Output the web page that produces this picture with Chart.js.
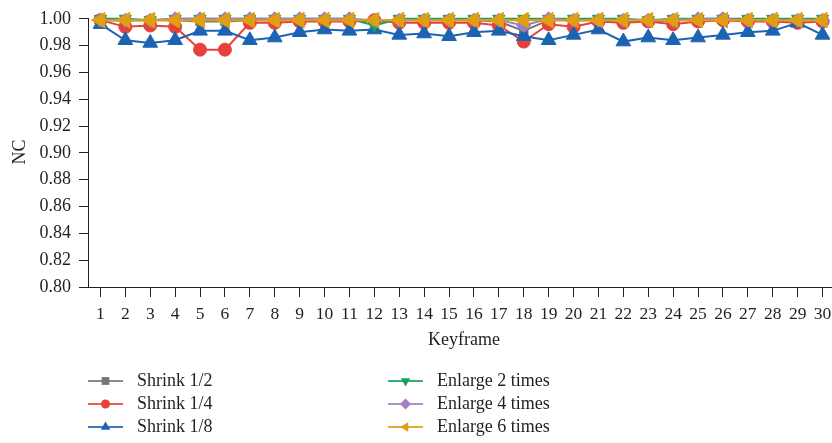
<!DOCTYPE html>
<html>
<head>
<meta charset="utf-8">
<script src="https://cdn.jsdelivr.net/npm/chart.js@4/dist/chart.umd.min.js"></script>
<style>
  html, body { margin: 0; padding: 0; background: #fff; overflow: hidden; }
  #wrap { width: 845px; height: 443px; }
</style>
</head>
<body>
<div id="wrap"><canvas id="c" width="845" height="443"></canvas></div>
<script>
const categories = ['1','2','3','4','5','6','7','8','9','10','11','12','13','14','15','16','17','18','19','20','21','22','23','24','25','26','27','28','29','30'];
const yTicks = [0.80,0.82,0.84,0.86,0.88,0.90,0.92,0.94,0.96,0.98,1.00];

const shrink12 = [0.999,0.999,0.999,0.999,0.998,0.998,0.999,0.999,0.999,0.999,0.999,0.998,0.999,0.999,0.999,0.999,0.998,0.991,0.999,0.999,0.999,0.999,0.998,0.999,0.999,0.999,0.999,0.999,0.999,0.999];
const shrink14 = [0.999,0.994,0.995,0.994,0.977,0.977,0.997,0.997,0.998,0.998,0.998,0.999,0.997,0.997,0.997,0.997,0.995,0.983,0.996,0.994,0.998,0.997,0.998,0.996,0.998,0.999,0.998,0.998,0.997,0.998];
const shrink18 = [0.996,0.984,0.982,0.984,0.991,0.991,0.984,0.986,0.990,0.992,0.991,0.992,0.988,0.989,0.987,0.990,0.991,0.987,0.984,0.988,0.992,0.983,0.986,0.984,0.986,0.988,0.990,0.991,0.997,0.988];
const enlarge2 = [1.000,1.000,0.999,1.000,1.000,1.000,1.000,1.000,1.000,1.000,1.000,0.995,1.000,1.000,1.000,1.000,1.000,1.000,1.000,1.000,1.000,1.000,0.999,1.000,1.000,1.000,1.000,1.000,1.000,1.000];
const enlarge4 = [0.999,0.999,0.999,1.000,1.000,1.000,1.000,1.000,1.000,1.000,1.000,0.999,0.999,0.999,0.999,0.999,0.999,0.995,1.000,0.999,0.999,0.999,0.999,0.999,1.000,1.000,0.999,0.999,0.999,0.999];
const enlarge6 = [0.999,0.999,0.999,0.999,0.999,0.999,0.999,0.999,0.999,0.999,0.999,0.999,0.999,0.999,0.999,0.999,0.999,0.999,0.999,0.999,0.999,0.999,0.999,0.999,0.999,0.999,0.999,0.999,0.999,0.999];

const seriesNames = ['Shrink 1/2','Shrink 1/4','Shrink 1/8','Enlarge 2 times','Enlarge 4 times','Enlarge 6 times'];

const FONT = '"Liberation Serif", "DejaVu Serif", serif';
const INK = '#231f20';

function ds(label, data, color, style, radius, rotation, order) {
  return {
    label, data,
    borderColor: color, backgroundColor: color,
    pointBackgroundColor: color, pointBorderColor: color,
    pointStyle: style, pointRadius: radius, pointHoverRadius: radius,
    pointRotation: rotation, borderWidth: 2, pointBorderWidth: 1,
    tension: 0, fill: false, clip: false, order
  };
}

const datasets = [
  ds(seriesNames[0], shrink12, '#767676', 'rect', 6, 0, 5),
  ds(seriesNames[1], shrink14, '#e8413a', 'circle', 6.5, 0, 4),
  ds(seriesNames[2], shrink18, '#1c63b2', 'triangle', 8.5, 0, 3),
  ds(seriesNames[3], enlarge2, '#16a05d', 'triangle', 7, 180, 2),
  ds(seriesNames[4], enlarge4, '#a27dc0', 'rectRot', 7, 0, 1),
  ds(seriesNames[5], enlarge6, '#e09e12', 'triangle', 9, -90, 0)
];

function drawMarker(ctx, style, x, y, r, rot, color) {
  ctx.save();
  ctx.translate(x, y);
  ctx.rotate(rot * Math.PI / 180);
  ctx.fillStyle = color;
  ctx.beginPath();
  if (style === 'circle') {
    ctx.arc(0, 0, r, 0, Math.PI * 2);
  } else if (style === 'rect') {
    const s = r * Math.SQRT1_2;
    ctx.rect(-s, -s, 2 * s, 2 * s);
  } else if (style === 'rectRot') {
    ctx.moveTo(0, -r); ctx.lineTo(r, 0); ctx.lineTo(0, r); ctx.lineTo(-r, 0);
  } else if (style === 'triangle') {
    for (let i = 0; i < 3; i++) {
      const a = i * 2 * Math.PI / 3;
      const px = Math.sin(a) * r, py = -Math.cos(a) * r;
      if (i === 0) ctx.moveTo(px, py); else ctx.lineTo(px, py);
    }
  }
  ctx.closePath();
  ctx.fill();
  ctx.restore();
}

const textPlugin = {
  id: 'textPlugin',
  afterDraw(chart) {
    const ctx = chart.ctx;
    ctx.save();
    ctx.fillStyle = INK;
    ctx.font = '18px ' + FONT;
    ctx.textAlign = 'center';
    ctx.textBaseline = 'middle';
    // y title
    ctx.save();
    ctx.translate(20, 152);
    ctx.rotate(-Math.PI / 2);
    ctx.fillText('NC', 0, 0);
    ctx.restore();
    // x title
    ctx.fillText('Keyframe', 464, 340);
    // legend
    const colX = [88, 388];
    const rowY = [381, 404, 427];
    chart.data.datasets.forEach((d, i) => {
      const col = Math.floor(i / 3), row = i % 3;
      const x0 = colX[col], y0 = rowY[row];
      ctx.save();
      ctx.globalAlpha = 0.85;
      ctx.strokeStyle = d.borderColor;
      ctx.lineWidth = 2;
      ctx.beginPath();
      ctx.moveTo(x0, y0); ctx.lineTo(x0 + 35, y0);
      ctx.stroke();
      ctx.restore();
      const lr = d.pointStyle === 'circle' ? 4.5 : 5.5;
      drawMarker(ctx, d.pointStyle, x0 + 17.5, y0, lr, d.pointRotation, d.borderColor);
      ctx.fillStyle = INK;
      ctx.textAlign = 'left';
      ctx.fillText(d.label, x0 + 49, y0);
    });
    ctx.restore();
  }
};

new Chart(document.getElementById('c'), {
  type: 'line',
  data: { labels: categories, datasets },
  plugins: [textPlugin],
  options: {
    responsive: false,
    animation: false,
    events: [],
    layout: { padding: { top: 16, right: 6, left: 0, bottom: 0 } },
    plugins: { legend: { display: false }, tooltip: { enabled: false }, title: { display: false } },
    scales: {
      x: {
        type: 'category',
        offset: true,
        grid: { display: true, drawOnChartArea: false, drawTicks: true, tickLength: 10, color: INK, lineWidth: 1, offset: false },
        border: { display: true, color: INK, width: 1 },
        ticks: { color: INK, font: { family: FONT, size: 17.5 }, padding: 7, maxRotation: 0, autoSkip: false },
        afterFit(scale) { scale.height = 156; }
      },
      y: {
        min: 0.80, max: 1.00,
        afterBuildTicks(scale) { scale.ticks = yTicks.map(v => ({ value: v })); },
        grid: { display: true, drawOnChartArea: false, drawTicks: true, tickLength: 9, color: INK, lineWidth: 1 },
        border: { display: true, color: INK, width: 1 },
        ticks: { color: INK, font: { family: FONT, size: 18 }, padding: 8, callback: v => Number(v).toFixed(2) },
        afterFit(scale) { scale.width = 88; }
      }
    }
  }
});
</script>
</body>
</html>
